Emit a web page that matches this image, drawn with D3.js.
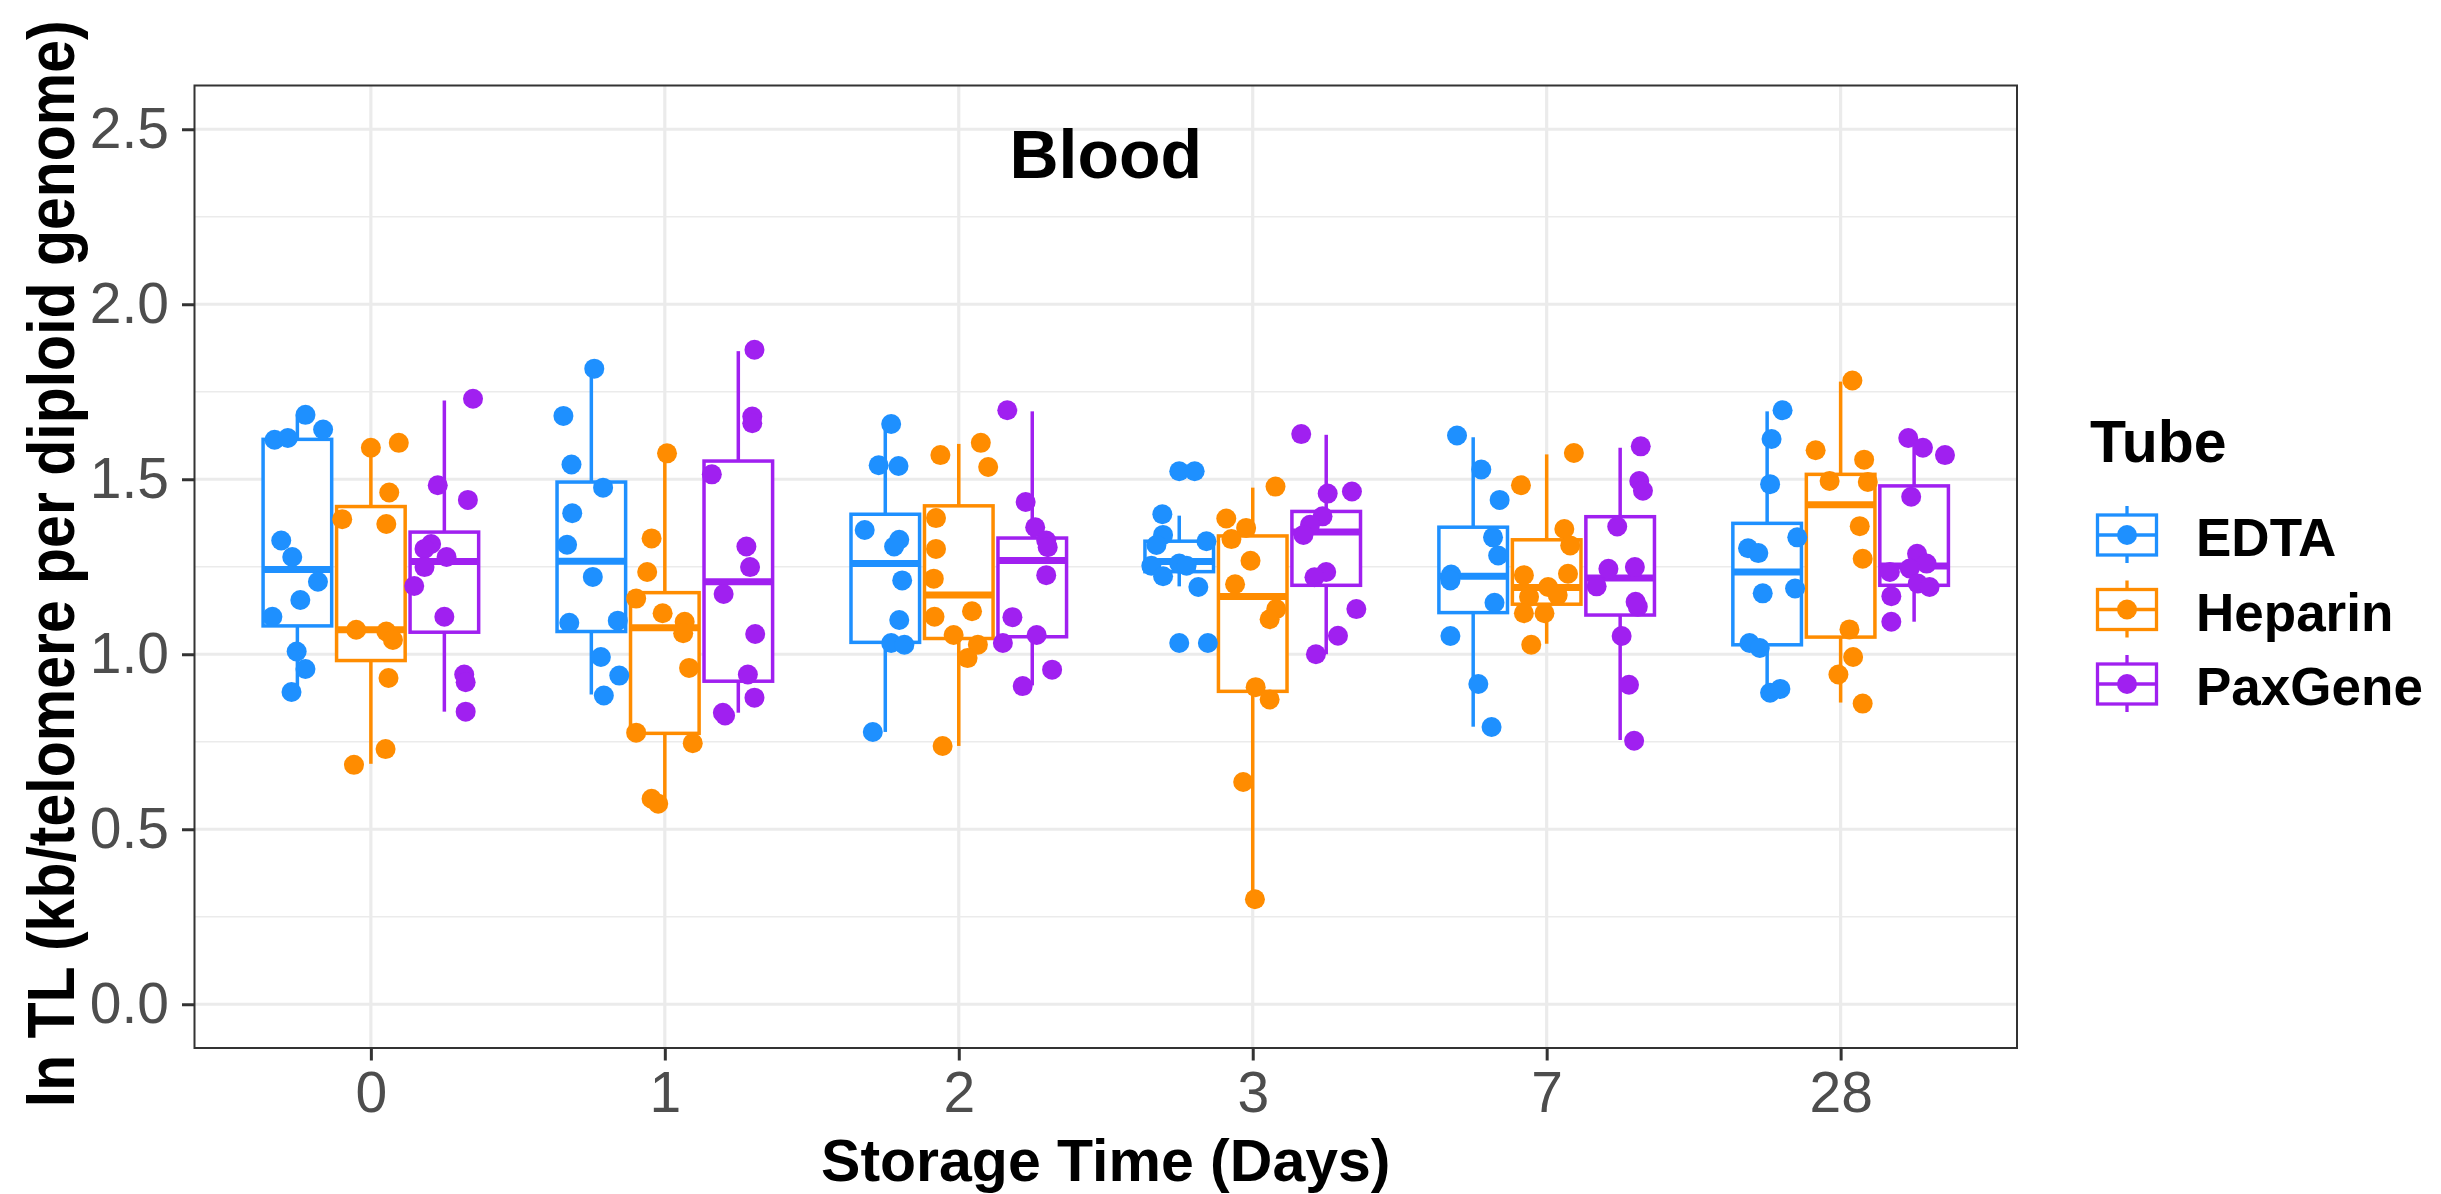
<!DOCTYPE html>
<html lang="en">
<head>
<meta charset="UTF-8">
<title>Blood - ln TL by storage time</title>
<script src="https://d3js.org/d3.v7.min.js"></script>
<style>
  body { margin: 0; background: white; font-family: "Liberation Sans", Arial, sans-serif; }
  svg { display: block; }
  .tick text { fill: #4d4d4d; font-size: 57px; font-family: "Liberation Sans", Arial, sans-serif; }
  .tick line { stroke: #333; stroke-width: 3px; }
  .axis-title { font-weight: bold; font-size: 59px; fill: black; }
  .legend-label { font-weight: bold; font-size: 53px; fill: black; }
</style>
</head>
<body>
<div id="vis"></div>
<script>
const days = ["0", "1", "2", "3", "7", "28"];
const tubes = ["EDTA", "Heparin", "PaxGene"];
const yTicks = [0, 0.5, 1.0, 1.5, 2.0, 2.5];
const yMinor = [0.25, 0.75, 1.25, 1.75, 2.25];

// box stats per day: [lower whisker, Q1, median, Q3, upper whisker]
const edtaBox = [
  [0.892, 1.081, 1.242, 1.614, 1.684],
  [0.885, 1.065, 1.266, 1.492, 1.816],
  [0.778, 1.034, 1.259, 1.400, 1.658],
  [1.194, 1.236, 1.265, 1.323, 1.396],
  [0.793, 1.119, 1.223, 1.363, 1.620],
  [0.894, 1.027, 1.235, 1.374, 1.694]
];
const heparinBox = [
  [0.687, 0.982, 1.070, 1.422, 1.590],
  [0.580, 0.774, 1.076, 1.176, 1.571],
  [0.738, 1.045, 1.169, 1.424, 1.601],
  [0.300, 0.894, 1.165, 1.338, 1.476],
  [1.030, 1.143, 1.191, 1.327, 1.571],
  [0.862, 1.049, 1.427, 1.514, 1.779]
];
const paxgeneBox = [
  [0.836, 1.063, 1.265, 1.349, 1.725],
  [0.833, 0.923, 1.207, 1.552, 1.866],
  [0.911, 1.050, 1.268, 1.332, 1.694],
  [1.000, 1.197, 1.349, 1.408, 1.627],
  [0.755, 1.112, 1.218, 1.393, 1.590],
  [1.093, 1.197, 1.252, 1.481, 1.594]
];

// individual samples per day (ln TL)
const edtaValues = [
  [1.684, 1.642, 1.613, 1.618, 1.325, 1.278, 1.207, 1.155, 1.107, 1.008, 0.958, 0.892],
  [1.816, 1.681, 1.542, 1.476, 1.403, 1.313, 1.221, 1.090, 1.096, 0.992, 0.939, 0.882],
  [1.658, 1.540, 1.538, 1.355, 1.327, 1.308, 1.211, 1.098, 1.032, 1.027, 0.778],
  [1.523, 1.523, 1.400, 1.341, 1.312, 1.323, 1.253, 1.223, 1.259, 1.253, 1.192, 1.032, 1.032],
  [1.625, 1.528, 1.441, 1.334, 1.282, 1.228, 1.211, 1.147, 1.052, 0.915, 0.792],
  [1.697, 1.615, 1.486, 1.334, 1.303, 1.289, 1.174, 1.188, 1.032, 1.018, 0.890, 0.901]
];
const heparinValues = [
  [1.590, 1.604, 1.462, 1.386, 1.372, 1.070, 1.065, 1.041, 0.932, 0.729, 0.684],
  [1.574, 1.331, 1.235, 1.159, 1.117, 1.093, 1.060, 0.961, 0.776, 0.746, 0.587, 0.573],
  [1.604, 1.569, 1.535, 1.389, 1.301, 1.216, 1.107, 1.123, 1.055, 1.027, 0.989, 0.738],
  [1.479, 1.388, 1.361, 1.329, 1.267, 1.200, 1.129, 1.100, 0.906, 0.871, 0.635, 0.300],
  [1.575, 1.483, 1.358, 1.311, 1.226, 1.230, 1.192, 1.164, 1.169, 1.117, 1.117, 1.027],
  [1.782, 1.583, 1.556, 1.495, 1.492, 1.366, 1.273, 1.071, 0.992, 0.942, 0.859]
];
const paxgeneValues = [
  [1.730, 1.483, 1.441, 1.315, 1.301, 1.278, 1.249, 1.195, 1.107, 0.942, 0.920, 0.836],
  [1.870, 1.679, 1.660, 1.514, 1.308, 1.249, 1.172, 1.058, 0.942, 0.876, 0.833, 0.825],
  [1.697, 1.435, 1.363, 1.325, 1.306, 1.226, 1.106, 1.032, 1.055, 0.956, 0.909],
  [1.629, 1.459, 1.465, 1.394, 1.370, 1.341, 1.235, 1.220, 1.129, 1.053, 1.000],
  [1.594, 1.495, 1.467, 1.365, 1.244, 1.249, 1.194, 1.150, 1.136, 1.052, 0.913, 0.753],
  [1.618, 1.590, 1.569, 1.450, 1.287, 1.259, 1.245, 1.235, 1.202, 1.192, 1.166, 1.093]
];

// horizontal jitter of each sample, as a fraction of its dodge slot
const edtaJitter = [
  [0.11, 0.35, -0.31, -0.13, -0.22, -0.07, 0.28, 0.04, -0.34, -0.01, 0.11, -0.08],
  [0.04, -0.38, -0.27, 0.16, -0.26, -0.33, 0.02, -0.30, 0.36, 0.13, 0.38, 0.17],
  [0.08, -0.09, 0.18, -0.28, 0.19, 0.12, 0.23, 0.19, 0.08, 0.26, -0.17],
  [0.00, 0.21, -0.23, -0.22, -0.31, 0.37, -0.38, -0.22, 0.00, 0.10, 0.26, 0.00, 0.39],
  [-0.22, 0.11, 0.36, 0.27, 0.34, -0.30, -0.31, 0.29, -0.31, 0.07, 0.25],
  [0.21, 0.06, 0.04, 0.41, -0.26, -0.12, -0.06, 0.38, -0.24, -0.10, 0.04, 0.18]
];
const heparinJitter = [
  [0.00, 0.38, 0.25, -0.39, 0.21, -0.20, 0.21, 0.30, 0.24, 0.20, -0.23],
  [0.03, -0.18, -0.24, -0.39, -0.03, 0.27, 0.25, 0.33, -0.39, 0.38, -0.18, -0.09],
  [0.30, -0.25, 0.40, -0.31, -0.31, -0.34, -0.33, 0.18, -0.07, 0.26, 0.12, -0.22],
  [0.31, -0.36, -0.09, -0.29, -0.03, -0.24, 0.32, 0.23, 0.04, 0.23, -0.13, 0.03],
  [0.37, -0.35, 0.24, 0.32, -0.31, 0.29, 0.02, -0.24, 0.15, -0.31, -0.03, -0.21],
  [0.16, -0.34, 0.32, -0.15, 0.37, 0.26, 0.30, 0.12, 0.17, -0.03, 0.30]
];
const paxgeneJitter = [
  [0.39, -0.09, 0.32, -0.18, -0.27, 0.03, -0.27, -0.41, 0.00, 0.27, 0.29, 0.29],
  [0.22, 0.19, 0.19, -0.36, 0.11, 0.16, -0.20, 0.23, 0.13, 0.22, -0.21, -0.18],
  [-0.34, -0.09, 0.04, 0.19, 0.21, 0.19, -0.27, -0.40, 0.06, 0.27, -0.13],
  [-0.34, 0.02, 0.35, -0.05, -0.22, -0.31, 0.00, -0.16, 0.41, 0.16, -0.14],
  [0.28, 0.26, 0.31, -0.04, -0.16, 0.20, -0.32, 0.21, 0.24, 0.02, 0.12, 0.19],
  [-0.08, 0.12, 0.42, -0.04, 0.04, 0.17, -0.06, -0.33, 0.05, 0.21, -0.31, -0.31]
];

const series = [
  { tube: "EDTA", box: edtaBox, values: edtaValues, jitter: edtaJitter },
  { tube: "Heparin", box: heparinBox, values: heparinValues, jitter: heparinJitter },
  { tube: "PaxGene", box: paxgeneBox, values: paxgeneValues, jitter: paxgeneJitter }
];

const color = d3.scaleOrdinal().domain(tubes).range(["#1e90ff", "#ff8c00", "#a020f0"]);

const W = 2441, H = 1194;
const panel = { left: 194.5, right: 2017, top: 85.5, bottom: 1048 };

const svg = d3.select("#vis").append("svg")
  .attr("width", W)
  .attr("height", H);

const x = d3.scalePoint()
  .domain(days)
  .range([panel.left, panel.right])
  .padding(0.6);
const step = x.step();

// dodge slots inside each day
const dodge = d3.scaleBand()
  .domain(tubes)
  .range([-0.375 * step, 0.375 * step]);
const slotW = dodge.bandwidth();
const boxW = step * 0.7 / 3;

const y = d3.scaleLinear()
  .domain([-0.125, 2.625])
  .range([panel.bottom, panel.top]);

// panel background + grid
const grid = svg.append("g");
grid.selectAll(".minor")
  .data(yMinor)
  .enter().append("line")
  .attr("x1", panel.left).attr("x2", panel.right)
  .attr("y1", d => y(d)).attr("y2", d => y(d))
  .attr("stroke", "#ebebeb")
  .attr("stroke-width", 1.6);
grid.selectAll(".major")
  .data(yTicks)
  .enter().append("line")
  .attr("x1", panel.left).attr("x2", panel.right)
  .attr("y1", d => y(d)).attr("y2", d => y(d))
  .attr("stroke", "#ebebeb")
  .attr("stroke-width", 3.2);
grid.selectAll(".vmajor")
  .data(days)
  .enter().append("line")
  .attr("x1", d => x(d)).attr("x2", d => x(d))
  .attr("y1", panel.top).attr("y2", panel.bottom)
  .attr("stroke", "#ebebeb")
  .attr("stroke-width", 3.2);

// boxes
const plot = svg.append("g");
series.forEach(s => {
  days.forEach((day, i) => {
    const [lo, q1, med, q3, hi] = s.box[i];
    const cx = x(day) + dodge(s.tube) + slotW / 2;
    const c = color(s.tube);
    const g = plot.append("g");

    g.append("line")
      .attr("x1", cx).attr("x2", cx)
      .attr("y1", y(hi)).attr("y2", y(q3))
      .attr("stroke", c).attr("stroke-width", 3.5);
    g.append("line")
      .attr("x1", cx).attr("x2", cx)
      .attr("y1", y(q1)).attr("y2", y(lo))
      .attr("stroke", c).attr("stroke-width", 3.5);
    g.append("rect")
      .attr("x", cx - boxW / 2)
      .attr("y", y(q3))
      .attr("width", boxW)
      .attr("height", y(q1) - y(q3))
      .attr("fill", "white")
      .attr("stroke", c)
      .attr("stroke-width", 3.5);
    g.append("line")
      .attr("x1", cx - boxW / 2).attr("x2", cx + boxW / 2)
      .attr("y1", y(med)).attr("y2", y(med))
      .attr("stroke", c).attr("stroke-width", 7);
  });
});

// jittered points on top
series.forEach(s => {
  days.forEach((day, i) => {
    const cx = x(day) + dodge(s.tube) + slotW / 2;
    const pts = s.values[i].map((v, k) => ({ v: v, j: s.jitter[i][k] }));
    plot.selectAll(null)
      .data(pts)
      .enter().append("circle")
      .attr("cx", d => cx + d.j * slotW)
      .attr("cy", d => y(d.v))
      .attr("r", 10)
      .attr("fill", color(s.tube));
  });
});

// annotation inside the panel
svg.append("text")
  .attr("x", (panel.left + panel.right) / 2)
  .attr("y", y(2.43))
  .attr("dy", "0.35em")
  .attr("text-anchor", "middle")
  .style("font-weight", "bold")
  .style("font-size", "68px")
  .text("Blood");

// panel border
svg.append("rect")
  .attr("x", panel.left)
  .attr("y", panel.top)
  .attr("width", panel.right - panel.left)
  .attr("height", panel.bottom - panel.top)
  .attr("fill", "none")
  .attr("stroke", "#333")
  .attr("stroke-width", 2);

// axes
const yAxis = svg.append("g")
  .attr("transform", `translate(${panel.left},0)`)
  .call(d3.axisLeft(y).tickValues(yTicks).tickFormat(d3.format(".1f")).tickSize(12.5).tickPadding(13));
yAxis.select(".domain").remove();

const xAxis = svg.append("g")
  .attr("transform", `translate(0,${panel.bottom})`)
  .call(d3.axisBottom(x).tickSize(12.5).tickPadding(11));
xAxis.select(".domain").remove();

svg.append("text")
  .attr("class", "axis-title")
  .attr("x", (panel.left + panel.right) / 2)
  .attr("y", 1181)
  .attr("text-anchor", "middle")
  .text("Storage Time (Days)");

// y title: glyphs a little taller than wide, as in the figure
svg.append("text")
  .attr("class", "axis-title")
  .attr("transform", `translate(74,${(panel.top + panel.bottom) / 2 - 3}) rotate(-90) scale(1,1.12)`)
  .attr("text-anchor", "middle")
  .text("ln TL (kb/telomere per diploid genome)");

// legend
const legend = svg.append("g").attr("transform", "translate(2090,0)");
legend.append("text")
  .attr("class", "axis-title")
  .attr("x", 0)
  .attr("y", 461.5)
  .text("Tube");

const keyY = d3.scalePoint().domain(tubes).range([535, 684]);
tubes.forEach(t => {
  const k = legend.append("g").attr("transform", `translate(37,${keyY(t)})`);
  const c = color(t);
  k.append("line")
    .attr("x1", 0).attr("x2", 0).attr("y1", -29).attr("y2", 28)
    .attr("stroke", c).attr("stroke-width", 3.3);
  k.append("rect")
    .attr("x", -29.5).attr("y", -20)
    .attr("width", 59).attr("height", 40)
    .attr("fill", "white")
    .attr("stroke", c).attr("stroke-width", 3.3);
  k.append("line")
    .attr("x1", -29.5).attr("x2", 29.5).attr("y1", 0).attr("y2", 0)
    .attr("stroke", c).attr("stroke-width", 3.3);
  k.append("circle")
    .attr("r", 10)
    .attr("fill", c);
  legend.append("text")
    .attr("class", "legend-label")
    .attr("x", 106)
    .attr("y", keyY(t) + 2.5)
    .attr("dy", "0.35em")
    .text(t);
});
</script>
</body>
</html>
